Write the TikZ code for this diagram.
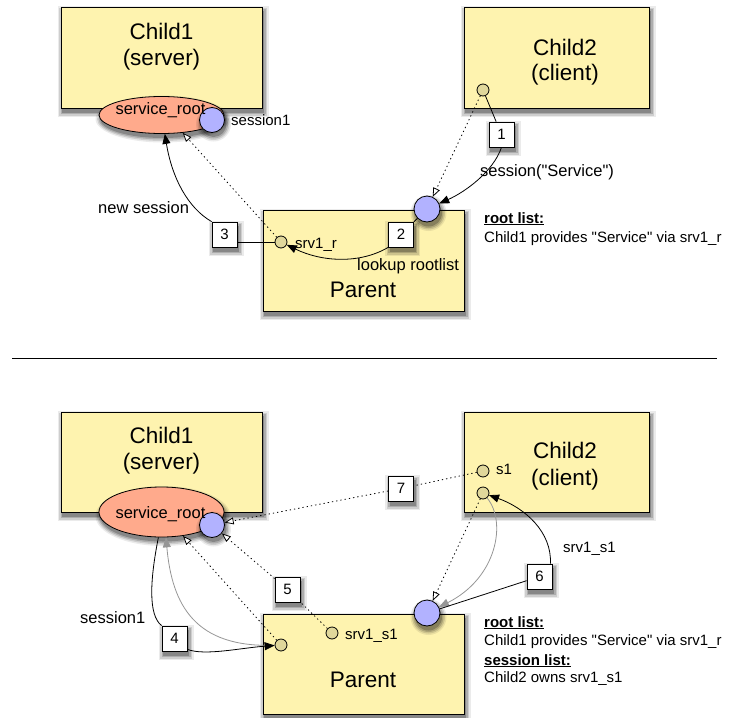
\documentclass[tikz,border=0pt]{standalone}
\usepackage{fontspec}
\setmainfont{Liberation Sans}[Ligatures=TeXOff]
\usetikzlibrary{arrows.meta,shapes.geometric,calc}
\definecolor{boxyellow}{RGB}{254,243,175}
\definecolor{salmonfill}{RGB}{255,170,140}
\definecolor{capblue}{RGB}{178,178,255}
\definecolor{handletan}{RGB}{224,215,155}
\definecolor{arrgray}{RGB}{150,150,150}
% soft shadows: centre x, centre y, half width, half height
\newcommand{\rshd}[4]{%
  \foreach \e/\o in {5/0.08,3.5/0.12,2/0.16,0.5/0.22}{%
    \fill[black, opacity=\o] (#1-#3+1.5-\e, #2-#4+4-\e) rectangle (#1+#3+1.5+\e, #2+#4+4+\e);}}
\newcommand{\eshd}[4]{%
  \foreach \e/\o in {5/0.08,3.5/0.12,2/0.16,0.5/0.22}{%
    \fill[black, opacity=\o] (#1+1.5, #2+4) ellipse [x radius=#3+\e, y radius=#4+\e];}}
\begin{document}
\begin{tikzpicture}[x=1pt,y=-1pt,
  procbox/.style={draw, line width=0.8pt, fill=boxyellow, inner sep=0pt},
  rootell/.style={ellipse, draw, line width=0.8pt, fill=salmonfill, inner sep=0pt, minimum width=125pt},
  capcirc/.style={circle, draw, line width=0.8pt, fill=capblue, minimum size=25pt, inner sep=0pt},
  hcirc/.style={circle, draw, line width=0.8pt, fill=handletan, minimum size=12pt, inner sep=0pt},
  numbox/.style={draw, fill=white, line width=0.8pt, minimum size=25pt, inner sep=0pt, font=\fontsize{15}{18}\selectfont},
  bigtxt/.style={font=\fontsize{22.5}{26}\selectfont, anchor=base, inner sep=0pt},
  elltxt/.style={font=\fontsize{16.5}{19}\selectfont, anchor=base, inner sep=0pt},
  lbl/.style={font=\fontsize{16.5}{19}\selectfont, anchor=base west, inner sep=0pt},
  sml/.style={font=\fontsize{15}{18}\selectfont, anchor=base west, inner sep=0pt},
  conn/.style={line width=0.8pt},
  solidarr/.style={conn, -{Triangle[length=10pt,width=8pt]}},
  dotline/.style={conn, dash pattern=on 1.3pt off 3pt},
  dotarr/.style={dotline, -{Triangle[open,length=9pt,width=7pt,fill=white]}},
  grayarr/.style={conn, draw=arrgray, -{Triangle[length=10pt,width=8pt]}},
]
\useasboundingbox (0,0) rectangle (729,718);

% ---------------- top ----------------
\rshd{161.5}{57.5}{100.5}{50.5}
\node[procbox, minimum width=201pt, minimum height=101pt] (c1t) at (161.5,57.5) {};
\rshd{556.5}{57.5}{92.5}{50.5}
\node[procbox, minimum width=185pt, minimum height=101pt] (c2t) at (556.5,57.5) {};
\rshd{363.5}{260.5}{100.5}{50.5}
\node[procbox, minimum width=201pt, minimum height=101pt] (pt) at (363.5,260.5) {};
\eshd{161.5}{115}{62.5}{18.5}
\node[rootell, minimum height=37pt] (ellt) at (161.5,115) {};
\eshd{212}{120}{12.5}{12.5}
\node[capcirc] (s1t) at (212,120) {};
\node[hcirc] (h2t) at (483,90) {};
\eshd{427}{209}{13}{13}
\node[capcirc, minimum size=26pt] (pct) at (427,209) {};
\node[hcirc] (rt) at (281,242) {};

\node[bigtxt] (c1ta) at (161.5,39) {Child1};
\node[bigtxt] (c1tb) at (161.5,65) {(server)};
\node[bigtxt] (c2ta) at (565,55) {Child2};
\node[bigtxt] (c2tb) at (565,80) {(client)};
\node[bigtxt] (ptt) at (363,297) {Parent};
\node[elltxt] (srtt) at (160.5,114) {service\_root};
\node[sml] (ses1t) at (231,125) {session1};
\node[sml] (srvr) at (295,248) {srv1\_r};
\node[lbl] (lookup) at (357,270) {lookup rootlist};
\node[lbl] (newses) at (98,213) {new session};
\node[lbl] (sesserv) at (480,176) {session("Service")};
\node[sml] (rl1) at (484,223) {\underline{\textbf{root list:}}};
\node[sml] (rl2) at (484,242) {Child1 provides "Service" via srv1\_r};

\rshd{501.5}{134.5}{12.5}{12.5}
\node[numbox] (n1) at (501.5,134.5) {1};
\rshd{401}{234.5}{12.5}{12.5}
\node[numbox] (n2) at (401,234.5) {2};
\rshd{224.5}{234.5}{12.5}{12.5}
\node[numbox] (n3) at (224.5,234.5) {3};

\draw[conn] (h2t) -- (n1);
\draw[solidarr] (n1.south) .. controls (493,172) and (465,192) .. (pct);
\draw[dotarr] (h2t) -- (pct);
\draw[conn] (pct) -- (n2);
\draw[solidarr] (n2.south west) .. controls (360,264) and (322,262) .. (rt);
\draw[dotarr] (rt) -- (ellt.-40);
\draw[conn] (n3.east |- rt) -- (rt);
\draw[solidarr] (n3.north west) .. controls (188,208) and (172,178) .. (ellt.-80);

% separator
\draw[conn] (12,358) -- (717,358);

% ---------------- bottom ----------------
\rshd{161.5}{462}{100.5}{50}
\node[procbox, minimum width=201pt, minimum height=100pt] (c1b) at (161.5,462) {};
\rshd{556.5}{462}{92.5}{50}
\node[procbox, minimum width=185pt, minimum height=100pt] (c2b) at (556.5,462) {};
\rshd{363.5}{664}{100.5}{50}
\node[procbox, minimum width=201pt, minimum height=100pt] (pb) at (363.5,664) {};
\eshd{161.5}{512}{62.5}{25}
\node[rootell, minimum height=50pt] (ellb) at (161.5,512) {};
\eshd{212}{525}{12.5}{12.5}
\node[capcirc] (s1b) at (212,525) {};
\node[hcirc] (hs1) at (483,471) {};
\node[hcirc] (h2b) at (483,493) {};
\eshd{427}{613}{13}{13}
\node[capcirc, minimum size=26pt] (pcb) at (427,613) {};
\node[hcirc] (srvs) at (332,633) {};
\node[hcirc] (rb) at (281,645) {};

\node[bigtxt] (c1ba) at (161.5,443) {Child1};
\node[bigtxt] (c1bb) at (161.5,469) {(server)};
\node[bigtxt] (c2ba) at (565,458) {Child2};
\node[bigtxt] (c2bb) at (565,485) {(client)};
\node[bigtxt] (pbt) at (363,687) {Parent};
\node[elltxt] (srtb) at (160.5,518) {service\_root};
\node[sml] (s1lbl) at (496,474) {s1};
\node[sml] (srvslbl) at (345,639) {srv1\_s1};
\node[lbl] (ses1b) at (80,623) {session1};
\node[sml] (srvs2) at (563,552) {srv1\_s1};
\node[sml] (rl3) at (484,627) {\underline{\textbf{root list:}}};
\node[sml] (rl4) at (484,645) {Child1 provides "Service" via srv1\_r};
\node[sml] (rl5) at (484,665) {\underline{\textbf{session list:}}};
\node[sml] (rl6) at (484,682) {Child2 owns srv1\_s1};

\rshd{174.5}{638.5}{12.5}{12.5}
\node[numbox] (n4) at (174.5,638.5) {4};
\rshd{287.5}{589.5}{12.5}{12.5}
\node[numbox] (n5) at (287.5,589.5) {5};
\rshd{539.5}{576.5}{12.5}{12.5}
\node[numbox] (n6) at (539.5,576.5) {6};
\rshd{401}{488.5}{12.5}{12.5}
\node[numbox] (n7) at (401,488.5) {7};

\draw[dotline] (hs1) -- (n7);
\draw[dotarr] (n7) -- (s1b);
\draw[dotarr] (h2b) -- (pcb);
\draw[grayarr] (h2b) .. controls (507,522) and (497,578) .. (pcb);
\draw[conn] (pcb) -- (n6);
\draw[solidarr] ($(n6.north east)+(-2,0)$) .. controls (552,532) and (525,508) .. (h2b);
\draw[dotline] (srvs) -- (n5);
\draw[dotarr] (n5) -- (s1b);
\draw[dotarr] (rb) -- (ellb.-48);
\draw[grayarr] (rb) .. controls (195,648) and (172,605) .. (ellb.-80);
\draw[conn] (ellb.-97) .. controls (150,580) and (148,615) .. (n4.north west);
\draw[solidarr] ($(n4.south east)+(0,-2)$) .. controls (205,656) and (240,648) .. (rb);
\end{tikzpicture}
\end{document}
